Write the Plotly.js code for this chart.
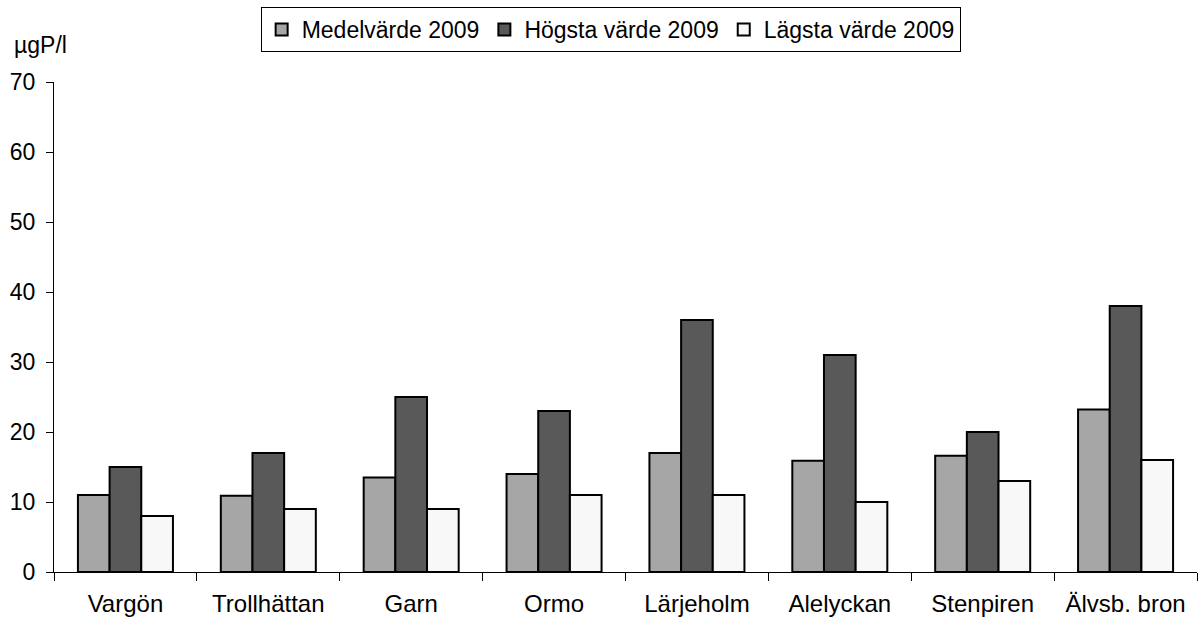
<!DOCTYPE html>
<html><head><meta charset="utf-8">
<script src="https://cdn.plot.ly/plotly-3.0.1.min.js"></script>
<style>html,body{margin:0;padding:0;background:#fff}#c{width:1199px;height:618px}</style>
</head><body><div id="c"></div>
<script>
const categories = ["Vargön","Trollhättan","Garn","Ormo","Lärjeholm","Alelyckan","Stenpiren","Älvsb. bron"];
const medel = [11, 10.9, 13.5, 14, 17, 15.9, 16.6, 23.2];
const hogsta = [15, 17, 25, 23, 36, 31, 20, 38];
const lagsta = [8, 9, 9, 11, 11, 10, 13, 16];
const seriesNames = ["Medelvärde 2009","Högsta värde 2009","Lägsta värde 2009"];
const colors = ["#a6a6a6","#595959","#f8f8f8"];
const vals = [medel, hogsta, lagsta];
const traces = vals.map((v,i)=>({
  type:'bar', x:categories, y:v, name:seriesNames[i],
  marker:{color:colors[i], line:{color:'#000', width:2}}
}));
const layout = {
  width:1199, height:618,
  margin:{l:54, r:2, t:82, b:46},
  paper_bgcolor:'#fff', plot_bgcolor:'#fff',
  font:{family:'"Liberation Sans", Arial, sans-serif', size:23, color:'#000'},
  barmode:'group', bargap:0.335, bargroupgap:0,
  showlegend:true,
  legend:{orientation:'h', x:0.487, xanchor:'center', y:1.153, yanchor:'top',
    bordercolor:'#000', borderwidth:1, bgcolor:'#fff',
    font:{size:23}, itemwidth:30, tracegroupgap:0},
  xaxis:{showline:true, linecolor:'#000', linewidth:1, ticks:'outside', tickson:'boundaries',
    ticklen:8, tickcolor:'#000', showgrid:false, zeroline:false, fixedrange:true,
    tickfont:{size:24}, ticklabelstandoff:10},
  yaxis:{range:[0,70], dtick:10, showline:true, linecolor:'#000', linewidth:1, ticks:'outside',
    ticklen:7, tickcolor:'#000', showgrid:false, zeroline:false, fixedrange:true,
    tickfont:{size:23}, ticklabelstandoff:6},
  annotations:[{text:'µgP/l', xref:'paper', yref:'paper', x:-0.037, y:1.0755, xanchor:'left', yanchor:'middle',
    showarrow:false, font:{size:23}}]
};
Plotly.newPlot('c', traces, layout, {displayModeBar:false, staticPlot:true});
</script></body></html>
